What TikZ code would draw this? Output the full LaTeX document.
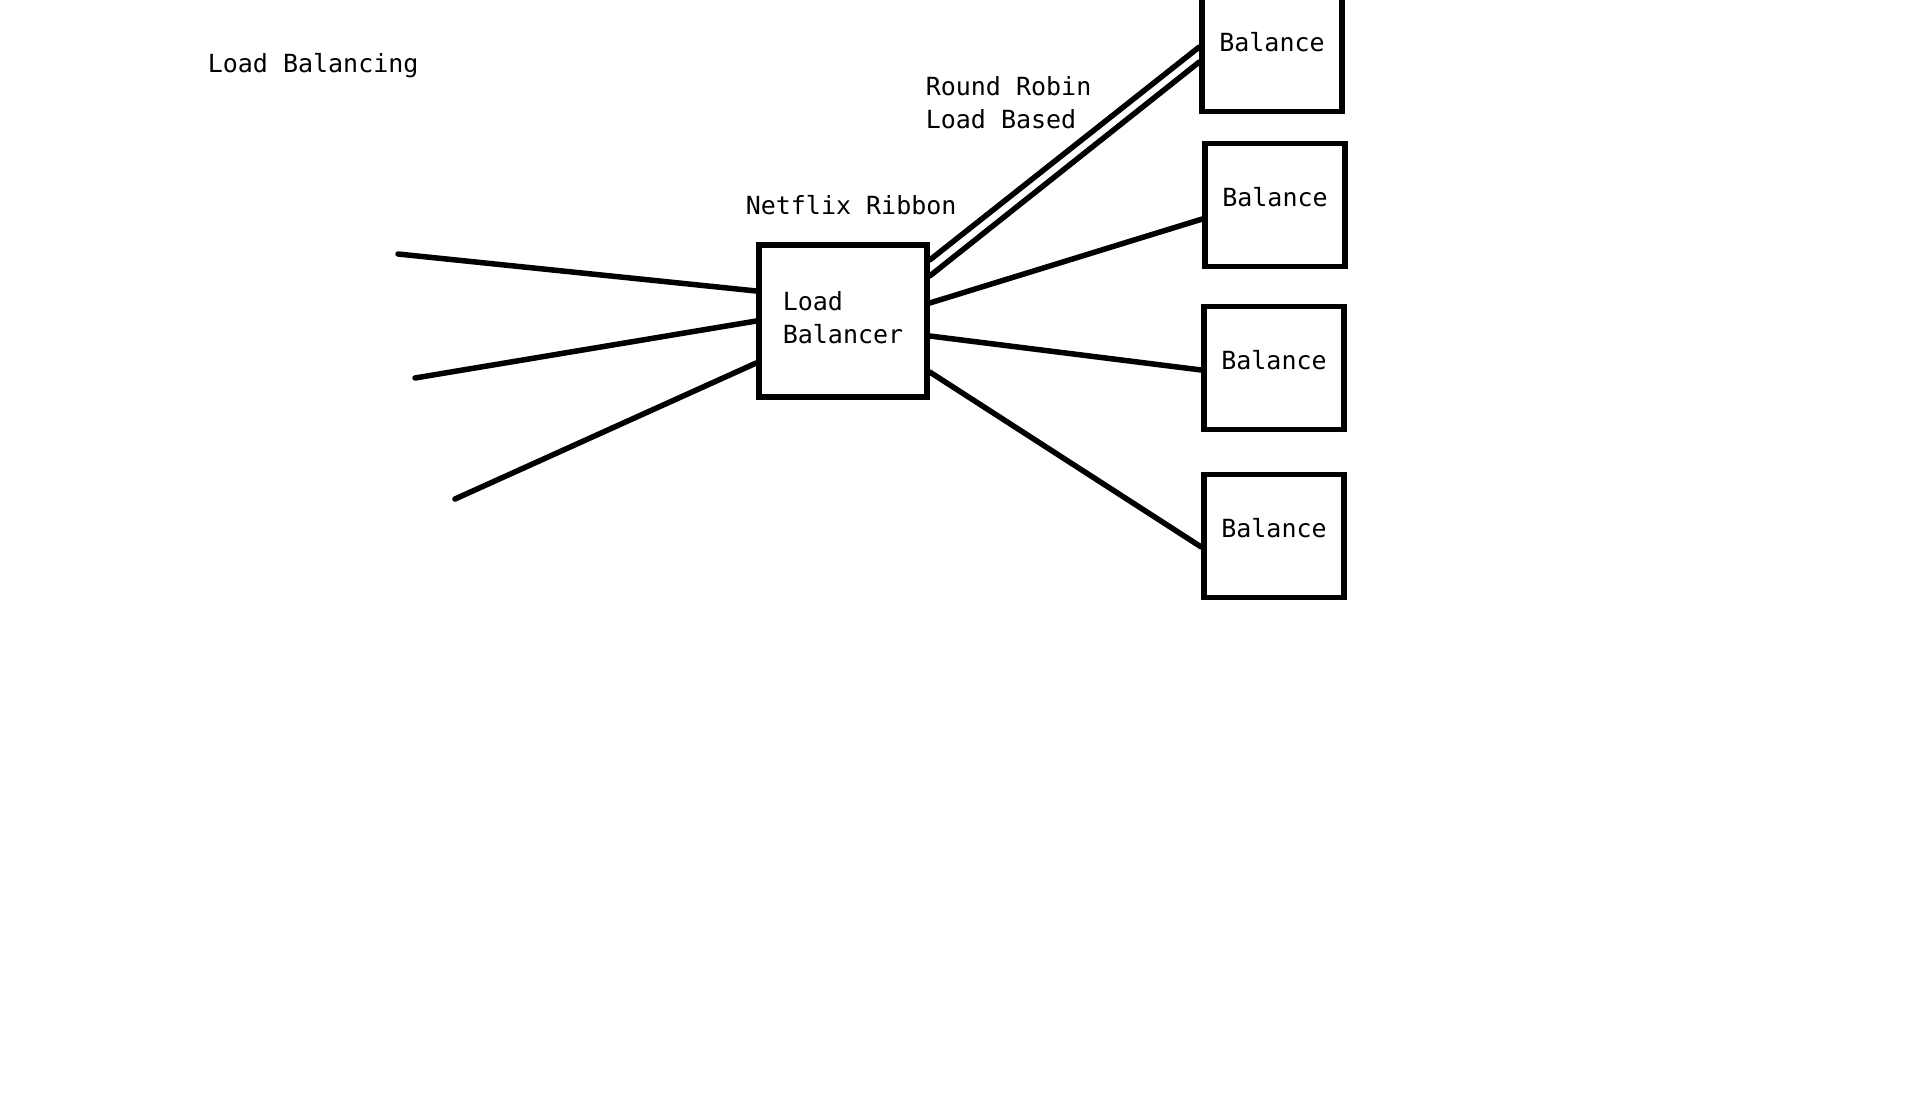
\documentclass[tikz,border=0pt]{standalone}
\usepackage{fontspec}
\setmonofont{DejaVu Sans Mono}
\usepackage{tikz}

\begin{document}
\begin{tikzpicture}[
      x=1pt,y=-1pt,
      line width=5.5pt,
      line cap=round,
      font=\ttfamily\fontsize{25}{33}\selectfont,
      lbbox/.style={
        draw,
        rectangle,
        line cap=butt,
        align=left,
        inner sep=0pt,
        text depth=8pt,
        minimum width=168pt,
        minimum height=152pt
      },
      server/.style={
        draw,
        rectangle,
        line cap=butt,
        inner sep=0pt,
        text depth=17pt,
        minimum width=140pt,
        minimum height=123pt
      },
      caption/.style={
        anchor=west,
        align=left,
        inner sep=0pt
      }
    ]
      \useasboundingbox (0,0) rectangle (1914,1103);

      \node (title) at (205,66) [caption]{Load Balancing};
      \node (ribbon) at (743,205) [caption]{Netflix Ribbon};
      \node (algo) at (923,103) [caption]{Round Robin\\Load Based};

      \node (lb) at (843,321) [lbbox]{Load\\Balancer};
      \node (s1) at (1272,50) [server]{Balance};
      \node (s2) at (1275,205) [server]{Balance};
      \node (s3) at (1274,368) [server]{Balance};
      \node (s4) at (1274,536) [server]{Balance};

      \coordinate (in1) at (398,254);
      \coordinate (in2) at (415,378);
      \coordinate (in3) at (455,499);

      \draw (in1) -- ([yshift=30pt]lb.west);
      \draw (in2) -- (lb.west);
      \draw (in3) -- ([yshift=-42pt]lb.west);

      \draw ([yshift=61pt]lb.east) -- ([yshift=3pt]s1.west);
      \draw ([yshift=45pt]lb.east) -- ([yshift=-12pt]s1.west);
      \draw ([yshift=18pt]lb.east) -- ([yshift=-14pt]s2.west);
      \draw ([yshift=-15pt]lb.east) -- ([yshift=-2pt]s3.west);
      \draw ([yshift=-51pt]lb.east) -- ([yshift=-11pt]s4.west);

    \end{tikzpicture}
\end{document}
